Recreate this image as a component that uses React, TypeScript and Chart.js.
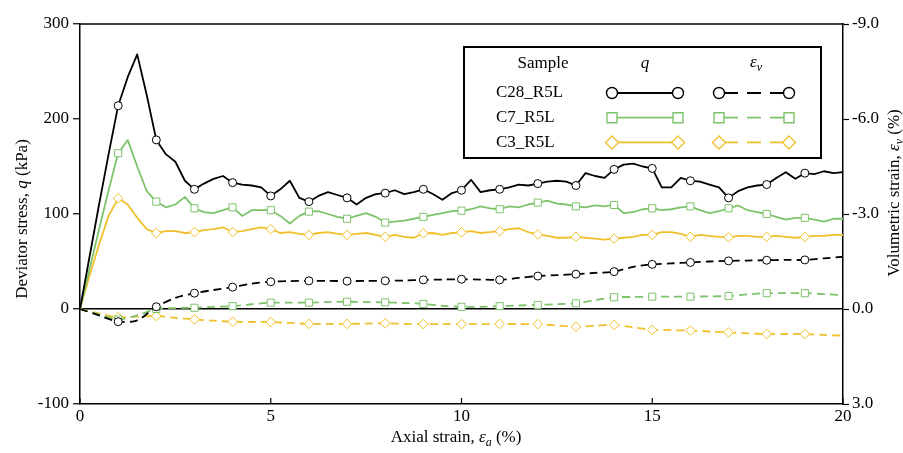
import { useEffect, useRef } from 'react';
import { Chart, registerables } from 'chart.js';

Chart.register(...registerables);

// ---------- data ----------
const strainQ = [
  0, 0.25, 0.5, 0.75, 1, 1.25, 1.5, 1.75, 2, 2.25, 2.5, 2.75, 3, 3.25, 3.5, 3.75, 4, 4.25, 4.5, 4.75,
  5, 5.25, 5.5, 5.75, 6, 6.25, 6.5, 6.75, 7, 7.25, 7.5, 7.75, 8, 8.25, 8.5, 8.75, 9, 9.25, 9.5, 9.75,
  10, 10.25, 10.5, 10.75, 11, 11.25, 11.5, 11.75, 12, 12.25, 12.5, 12.75, 13, 13.25, 13.5, 13.75, 14, 14.25, 14.5, 14.75,
  15, 15.25, 15.5, 15.75, 16, 16.25, 16.5, 16.75, 17, 17.25, 17.5, 17.75, 18, 18.25, 18.5, 18.75, 19, 19.25, 19.5, 19.75, 20,
];

const qC28 = [
  0, 55, 110, 163, 214, 244, 268, 225, 178, 163, 155, 135, 126, 132, 137, 140, 133, 131, 130, 128,
  119, 126, 135, 117, 113, 119, 123, 120, 117, 110, 117, 121, 122, 125, 121, 123, 126, 121, 115, 122,
  125, 136, 123, 125, 126, 128, 131, 130, 132, 134, 135, 134, 130, 143, 140, 138, 147, 152, 153, 150,
  148, 128, 128, 138, 135, 134, 131, 128, 117, 124, 128, 130, 131, 138, 144, 137, 143, 142, 145, 143, 144,
];

const qC7 = [
  0, 42, 84, 125, 164, 178, 150, 124, 113, 107, 110, 118, 106, 102, 101, 104, 107, 98, 104, 104,
  104, 98, 90, 98, 102.5, 103, 100, 97, 95, 98, 101, 97, 91, 92, 93, 95, 97, 99, 101, 103,
  103.5, 105, 108, 106, 105, 108, 107, 110, 112, 114, 111, 110, 108, 107, 109, 108, 109.5, 101, 102, 105,
  106, 104, 105, 107, 108, 104, 101, 103, 106, 109, 104, 102, 100, 97, 94, 96, 96, 94, 92, 95, 95,
];

const qC3 = [
  0, 35, 68, 98, 116.5, 110, 96, 84, 80, 82, 82, 80, 81, 83, 84, 86, 81, 82, 84, 86,
  84, 80, 81, 79, 78, 80, 81, 79, 78, 79, 80, 78, 76, 78, 76, 75, 79.7, 80, 78, 80,
  80.7, 82, 80, 81, 82, 84, 85, 81, 78.6, 77, 75, 75, 76, 75, 74, 73, 74, 75, 76, 78,
  78, 81, 81, 79, 76, 78, 77, 76, 75.5, 77, 77, 76, 76, 77, 76, 75, 76, 77, 77, 78, 78,
];

const strainEv = [
  0, 0.5, 1, 1.5, 2, 2.5, 3, 3.5, 4, 4.5, 5, 5.5, 6, 6.5, 7, 7.5, 8, 8.5, 9, 9.5,
  10, 10.5, 11, 11.5, 12, 12.5, 13, 13.5, 14, 14.5, 15, 15.5, 16, 16.5, 17, 17.5, 18, 18.5, 19, 19.5, 20,
];

const evC28 = [
  0, 0.2, 0.4, 0.36, -0.07, -0.35, -0.5, -0.6, -0.69, -0.8, -0.86, -0.88, -0.89, -0.89, -0.88, -0.89, -0.89, -0.9, -0.92, -0.93,
  -0.94, -0.93, -0.92, -0.98, -1.04, -1.07, -1.1, -1.14, -1.18, -1.33, -1.41, -1.44, -1.47, -1.5, -1.52, -1.53, -1.54, -1.55, -1.55, -1.6, -1.65,
];

const evC7 = [
  0, 0.17, 0.33, 0.2, 0.0, -0.03, -0.04, -0.07, -0.09, -0.15, -0.2, -0.2, -0.2, -0.22, -0.23, -0.22, -0.21, -0.19, -0.16, -0.1,
  -0.07, -0.07, -0.09, -0.11, -0.13, -0.15, -0.18, -0.28, -0.37, -0.38, -0.39, -0.39, -0.39, -0.4, -0.41, -0.46, -0.5, -0.5, -0.5, -0.47, -0.44,
];

const evC3 = [
  0, 0.14, 0.26, 0.24, 0.22, 0.28, 0.33, 0.37, 0.4, 0.41, 0.41, 0.44, 0.47, 0.47, 0.47, 0.46, 0.45, 0.47, 0.48, 0.48,
  0.48, 0.48, 0.47, 0.48, 0.48, 0.52, 0.56, 0.53, 0.5, 0.58, 0.66, 0.67, 0.68, 0.71, 0.74, 0.77, 0.79, 0.79, 0.79, 0.82, 0.84,
];

const samples = ['C28_R5L', 'C7_R5L', 'C3_R5L'];
const xTicks = [0, 5, 10, 15, 20];
const qTicks = [-100, 0, 100, 200, 300];
const evTicks = [-9, -6, -3, 0, 3];

// ---------- styles ----------
const FONT = '"Liberation Serif", "Times New Roman", serif';
const FS = 17;
const colors = ['#000000', '#7dc36a', '#f0c02c'];
const pointStyles = ['circle', 'rect', 'rectRot'] as const;
const plotRadius = [4, 5, 4.8];

type Seg = { t: string; it?: boolean; sub?: boolean };

function drawRich(ctx: CanvasRenderingContext2D, segs: Seg[], cx: number, cy: number, size: number, rot: number) {
  ctx.save();
  ctx.translate(cx, cy);
  ctx.rotate(rot);
  ctx.fillStyle = '#000';
  ctx.textBaseline = 'middle';
  ctx.textAlign = 'left';
  const fontOf = (s: Seg) => `${s.it ? 'italic ' : ''}${s.sub ? Math.round(size * 0.68) : size}px ${FONT}`;
  const widths = segs.map((s) => {
    ctx.font = fontOf(s);
    return ctx.measureText(s.t).width;
  });
  const total = widths.reduce((a, b) => a + b, 0);
  let x = -total / 2;
  segs.forEach((s, i) => {
    ctx.font = fontOf(s);
    ctx.fillText(s.t, x, s.sub ? size * 0.28 : 0);
    x += widths[i];
  });
  ctx.restore();
}

function drawMarker(ctx: CanvasRenderingContext2D, style: string, x: number, y: number, r: number, color: string) {
  ctx.save();
  ctx.fillStyle = '#fff';
  ctx.strokeStyle = color;
  ctx.lineWidth = 1.4;
  ctx.setLineDash([]);
  ctx.beginPath();
  if (style === 'circle') {
    ctx.arc(x, y, r, 0, Math.PI * 2);
  } else if (style === 'rect') {
    ctx.rect(x - r, y - r, 2 * r, 2 * r);
  } else {
    ctx.moveTo(x - r, y);
    ctx.lineTo(x, y - r);
    ctx.lineTo(x + r, y);
    ctx.lineTo(x, y + r);
    ctx.closePath();
  }
  ctx.fill();
  ctx.stroke();
  ctx.restore();
}

const decorPlugin = {
  id: 'decor',
  afterDraw(chart: any) {
    const ctx: CanvasRenderingContext2D = chart.ctx;
    const { left, right, top, bottom } = chart.chartArea;
    const xs = chart.scales.x;

    ctx.save();
    // top frame line
    ctx.strokeStyle = '#000';
    ctx.lineWidth = 1.5;
    ctx.beginPath();
    ctx.moveTo(left - 0.75, top);
    ctx.lineTo(right + 0.75, top);
    ctx.stroke();
    // inward x ticks
    ctx.lineWidth = 1.2;
    xTicks.forEach((v) => {
      const px = xs.getPixelForValue(v);
      ctx.beginPath();
      ctx.moveTo(px, bottom);
      ctx.lineTo(px, bottom - 6);
      ctx.stroke();
    });
    ctx.restore();

    // axis titles
    drawRich(ctx, [{ t: 'Deviator stress, ' }, { t: 'q', it: true }, { t: ' (kPa)' }], 23, 219, FS, -Math.PI / 2);
    drawRich(ctx, [{ t: 'Volumetric strain, ' }, { t: 'ε', it: true }, { t: 'v', it: true, sub: true }, { t: ' (%)' }], 895, 193, FS, -Math.PI / 2);
    drawRich(ctx, [{ t: 'Axial strain, ' }, { t: 'ε', it: true }, { t: 'a', it: true, sub: true }, { t: ' (%)' }], 456, 438, FS, 0);

    // legend box
    const bx = left + 384;
    const by = top + 23;
    const bw = 357;
    const bh = 111;
    ctx.save();
    ctx.fillStyle = '#fff';
    ctx.fillRect(bx, by, bw, bh);
    ctx.strokeStyle = '#000';
    ctx.lineWidth = 2;
    ctx.strokeRect(bx, by, bw, bh);
    ctx.restore();

    drawRich(ctx, [{ t: 'Sample' }], bx + 79, by + 17, FS, 0);
    drawRich(ctx, [{ t: 'q', it: true }], bx + 181, by + 17, FS, 0);
    drawRich(ctx, [{ t: 'ε', it: true }, { t: 'v', it: true, sub: true }], bx + 292, by + 16, FS, 0);

    const legR = [5.5, 5, 6.5];
    samples.forEach((name, i) => {
      const ry = by + 46 + i * 24.7;
      ctx.save();
      ctx.fillStyle = '#000';
      ctx.font = `${FS}px ${FONT}`;
      ctx.textAlign = 'left';
      ctx.textBaseline = 'middle';
      ctx.fillText(name, bx + 32, ry);
      ctx.restore();

      const x1 = bx + 148;
      const x2 = bx + 214;
      const x3 = bx + 255;
      const x4 = bx + 325;
      ctx.save();
      ctx.strokeStyle = colors[i];
      ctx.lineWidth = 1.8;
      ctx.beginPath();
      ctx.moveTo(x1, ry);
      ctx.lineTo(x2, ry);
      ctx.stroke();
      ctx.setLineDash([14, 9]);
      ctx.beginPath();
      ctx.moveTo(x3 + 5, ry);
      ctx.lineTo(x4, ry);
      ctx.stroke();
      ctx.restore();
      [x1, x2, x3, x4].forEach((mx) => drawMarker(ctx, pointStyles[i], mx, ry, legR[i], colors[i]));
    });
  },
};

function markerRadius(strain: number[], r: number) {
  return (c: any) => {
    const v = strain[c.dataIndex];
    return Number.isInteger(v) && v > 0 && v < 20 ? r : 0;
  };
}

export default function App() {
  const ref = useRef<HTMLCanvasElement | null>(null);

  useEffect(() => {
    if (!ref.current) return;
    const qSeries = [qC28, qC7, qC3];
    const evSeries = [evC28, evC7, evC3];
    const datasets: any[] = [];
    evSeries.forEach((arr, i) => {
      datasets.push({
        label: samples[i] + ' εv',
        data: arr.map((v, k) => ({ x: strainEv[k], y: v })),
        yAxisID: 'y2',
        borderColor: colors[i],
        borderWidth: 1.8,
        borderDash: [8, 5],
        pointStyle: pointStyles[i],
        pointRadius: markerRadius(strainEv, plotRadius[i]),
        pointBackgroundColor: '#fff',
        pointBorderColor: colors[i],
        pointBorderWidth: 1,
        tension: 0.3,
        fill: false,
      });
    });
    qSeries.forEach((arr, i) => {
      datasets.push({
        label: samples[i] + ' q',
        data: arr.map((v, k) => ({ x: strainQ[k], y: v })),
        yAxisID: 'y',
        borderColor: colors[i],
        borderWidth: 1.8,
        pointStyle: pointStyles[i],
        pointRadius: markerRadius(strainQ, plotRadius[i]),
        pointBackgroundColor: '#fff',
        pointBorderColor: colors[i],
        pointBorderWidth: 1,
        tension: 0,
        fill: false,
      });
    });

    const tickFont = { family: FONT, size: FS };
    const chart = new Chart(ref.current, {
      type: 'line',
      data: { datasets },
      plugins: [decorPlugin],
      options: {
        animation: false,
        responsive: false,
        maintainAspectRatio: false,
        layout: { padding: { top: 24, left: 0, right: 0, bottom: 0 } },
        plugins: { legend: { display: false }, tooltip: { enabled: false } },
        elements: { line: { borderJoinStyle: 'round' } },
        scales: {
          x: {
            type: 'linear',
            min: 0,
            max: 20,
            afterFit: (s: any) => { s.height = 49; },
            afterBuildTicks: (s: any) => { s.ticks = xTicks.map((v) => ({ value: v })); },
            ticks: { font: tickFont, color: '#000', padding: 2, maxRotation: 0 },
            grid: { drawOnChartArea: false, drawTicks: false },
            border: { color: '#000', width: 1.5 },
          },
          y: {
            type: 'linear',
            position: 'left',
            min: -100,
            max: 300,
            afterFit: (s: any) => { s.width = 80; },
            afterBuildTicks: (s: any) => { s.ticks = qTicks.map((v) => ({ value: v })); },
            ticks: { font: tickFont, color: '#000', padding: 4 },
            grid: {
              drawOnChartArea: true,
              drawTicks: true,
              tickLength: 7,
              tickColor: '#000',
              tickWidth: 1.2,
              lineWidth: 1.5,
              color: (c: any) => (c.tick && c.tick.value === 0 ? '#000' : 'rgba(0,0,0,0)'),
            },
            border: { color: '#000', width: 1.5 },
          },
          y2: {
            type: 'linear',
            position: 'right',
            min: -9,
            max: 3,
            reverse: true,
            afterFit: (s: any) => { s.width = 60; },
            afterBuildTicks: (s: any) => { s.ticks = evTicks.map((v) => ({ value: v })); },
            ticks: { font: tickFont, color: '#000', padding: 3, callback: (v: any) => Number(v).toFixed(1) },
            grid: { drawOnChartArea: false, drawTicks: true, tickLength: 6, tickColor: '#000', tickWidth: 1.2 },
            border: { color: '#000', width: 1.5 },
          },
        },
      } as any,
    });
    return () => chart.destroy();
  }, []);

  return (
    <div style={{ position: 'absolute', left: 0, top: 0, width: 903, height: 453, background: '#fff' }}>
      <canvas ref={ref} width={903} height={453} style={{ width: 903, height: 453 }} />
    </div>
  );
}
